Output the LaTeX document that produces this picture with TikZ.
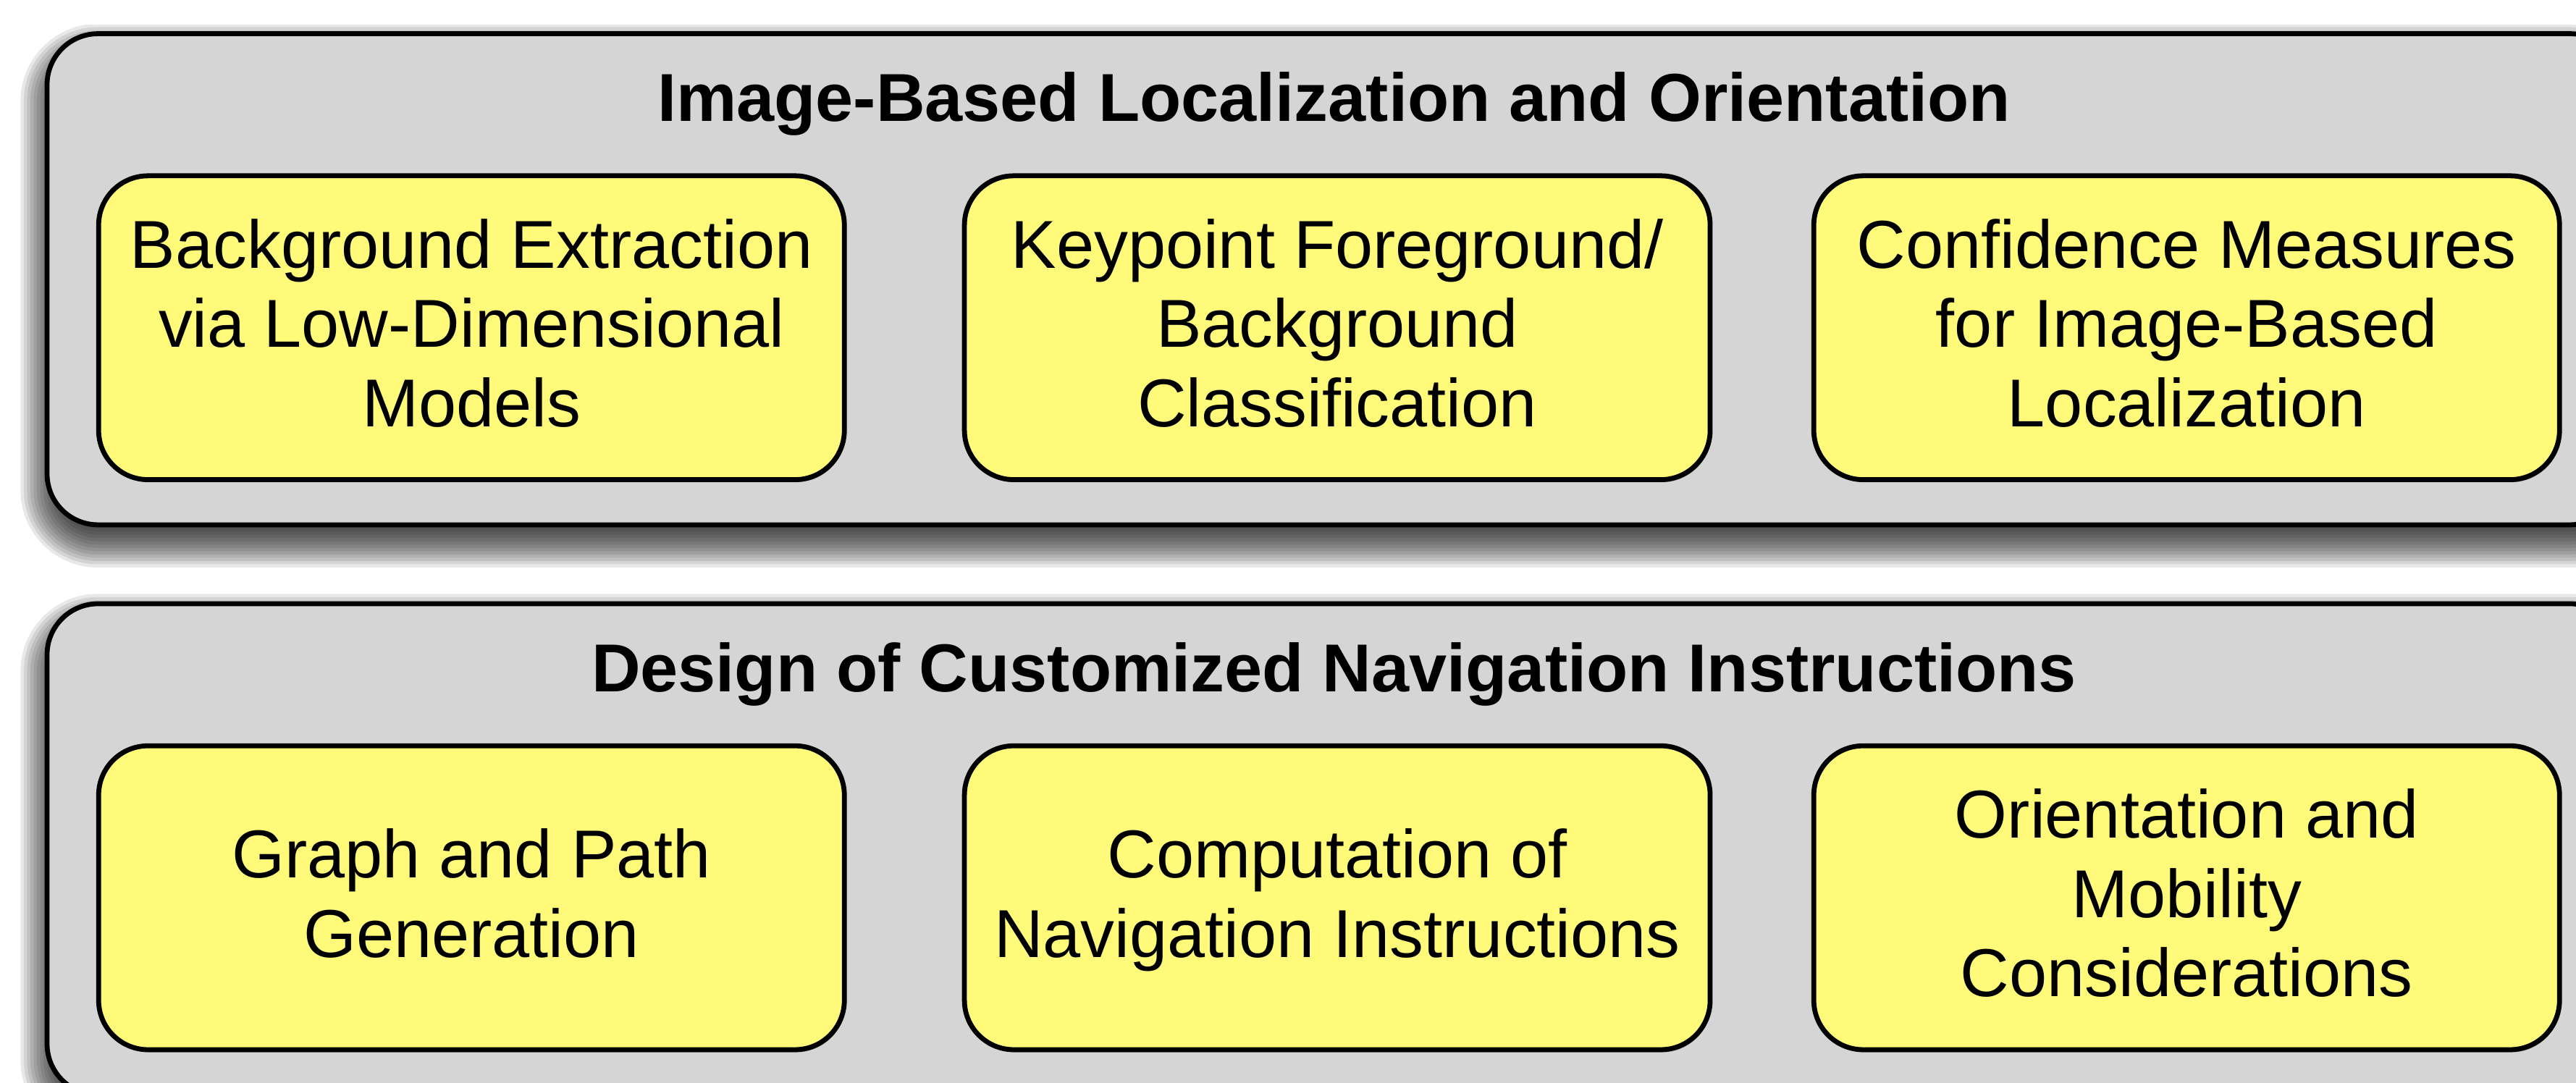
\documentclass[tikz,border=0pt]{standalone}
\usepackage{fontspec}
\setmainfont{Liberation Sans}
\usetikzlibrary{shadows}

\definecolor{panelgray}{HTML}{D5D5D5}
\definecolor{boxyellow}{HTML}{FFFA7A}

\begin{document}
\begin{tikzpicture}[x=0.02cm, y=-0.02cm,
    panel/.style = {rectangle, draw, line width=1.7pt, fill=panelgray,
                    rounded corners=0.62cm, inner sep=0pt,
                    minimum width=31.34cm, minimum height=5.98cm},
    title/.style = {font=\fontsize{23.5}{27.5}\selectfont\bfseries, inner sep=0pt},
    topic/.style = {rectangle, draw, line width=1.7pt, fill=boxyellow,
                    rounded corners=0.6cm, align=center, inner sep=0pt,
                    minimum width=9.08cm, minimum height=3.7cm, text depth=3.4pt,
                    font=\fontsize{23.5}{27.5}\selectfont,
                    drop shadow={shadow xshift=0.4pt, shadow yshift=-0.9pt, opacity=0.9}}]
        \useasboundingbox (0, 0) rectangle (1568, 659);
        \clip (11, 15) rectangle (1568, 659);

        % soft shadows under both panels
        \foreach \top in {20.5, 367.5}{
          \foreach \d in {-16,-14,...,16}{
            \pgfmathsetmacro{\r}{(31+\d)*0.02}
            \fill [black, opacity=0.09, rounded corners=\r cm]
              (28.5-\d, \top+10-\d) rectangle (1595.5+\d, \top+309+\d);
          }
        }

        % localization panel
        \node [panel] (loc) at (812, 170) {};
        \node [title, anchor=base] (loctitle) at (812, 74) {Image-Based Localization and Orientation};
        \node [topic] (bgextract) at (287, 199.5) {Background Extraction\\via Low-Dimensional\\Models};
        \node [topic] (keypoint) at (814, 199.5) {Keypoint Foreground/\\Background\\Classification};
        \node [topic] (confidence) at (1331, 199.5) {Confidence Measures\\for Image-Based\\Localization};

        % navigation panel
        \node [panel] (nav) at (812, 517) {};
        \node [title, anchor=base] (navtitle) at (812, 421) {Design of Customized Navigation Instructions};
        \node [topic] (graphpath) at (287, 546.5) {Graph and Path\\Generation};
        \node [topic] (instructions) at (814, 546.5) {Computation of\\Navigation Instructions};
        \node [topic] (mobility) at (1331, 546.5) {Orientation and\\Mobility\\Considerations};
\end{tikzpicture}
\end{document}
